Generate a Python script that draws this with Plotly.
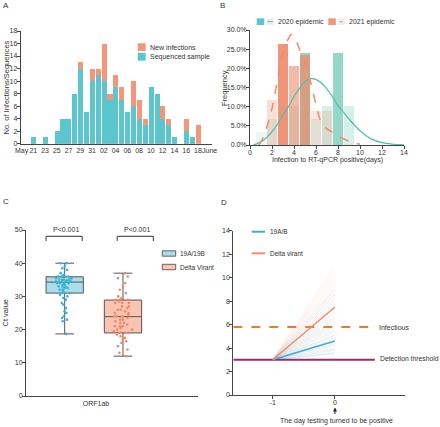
import plotly.graph_objects as go

W, H = 440, 427
def px(x): return x / W
def py(y): return 1 - y / H

FONT = "Arial, 'Liberation Sans', sans-serif"
TXT = "#333333"
AX = "#444444"
TEAL = "#5CC6CF"
ORANGE = "#F4967A"
T20 = "91,192,170"
S21 = "238,138,106"
BLUE = "#3AAFD7"
SAL = "#F28B6B"

# ---------------- Panel A data ----------------
a_dates = ["2021-05-21", "2021-05-23", "2021-05-25", "2021-05-26", "2021-05-27", "2021-05-28",
           "2021-05-29", "2021-05-30", "2021-05-31", "2021-06-01", "2021-06-02", "2021-06-03",
           "2021-06-04", "2021-06-05", "2021-06-06", "2021-06-07", "2021-06-08", "2021-06-09",
           "2021-06-10", "2021-06-11", "2021-06-12", "2021-06-13", "2021-06-14", "2021-06-16",
           "2021-06-17", "2021-06-18"]
new_infections = [1, 1, 2, 4, 4, 8, 13, 5, 12, 12, 16, 8, 11, 9, 5, 10, 7, 4, 9, 8, 6, 4, 1, 4, 1, 3]
sequenced = [1, 1, 2, 4, 4, 8, 12, 5, 10, 11, 10, 7, 9, 7, 5, 6, 4, 3, 9, 8, 4, 3, 1, 2, 1, 0]
a_tickvals = ["2021-05-19", "2021-05-21", "2021-05-23", "2021-05-25", "2021-05-27", "2021-05-29",
              "2021-05-31", "2021-06-02", "2021-06-04", "2021-06-06", "2021-06-08", "2021-06-10",
              "2021-06-12", "2021-06-14", "2021-06-16", "2021-06-18", "2021-06-20"]
a_ticktext = ["May", "21", "23", "25", "27", "29", "31", "02", "04", "06", "08", "10",
              "12", "14", "16", "18", "June"]

# ---------------- Panel B data ----------------
days_2020 = [1, 2, 3, 4, 5, 6, 7, 8, 9]
freq_2020 = [3.5, 6.9, 10.3, 10.3, 24.1, 6.9, 10.3, 24.1, 10.3]
days_2021 = [2, 3, 4, 5, 6, 7]
freq_2021 = [11.8, 26.4, 20.5, 23.6, 8.8, 8.8]
fit2020_x = [0.3, 0.6, 1.2, 1.8, 2.4, 3.0, 3.5, 4.0, 4.5, 5.0, 5.6, 6.2, 6.8, 7.4, 8.0, 8.5, 9.0, 10.0, 11.0, 12.0, 13.0, 14.0]
fit2020_y = [0.0, 0.3, 1.2, 2.8, 5.0, 7.8, 10.0, 12.7, 14.8, 16.5, 17.3, 16.8, 15.3, 13.0, 10.3, 8.6, 6.8, 3.7, 1.6, 0.6, 0.2, 0.05]
fit2021_x = [0.8, 1.0, 1.5, 2.0, 2.5, 3.0, 3.5, 3.75, 4.0, 4.5, 5.0, 5.5, 6.0, 6.5, 7.0, 7.5, 8.0, 9.0, 10.0]
fit2021_y = [0.0, 0.8, 4.5, 9.5, 17.0, 23.5, 27.8, 28.8, 28.3, 25.0, 21.5, 16.5, 10.5, 5.8, 4.2, 3.3, 2.4, 1.0, 0.2]
b_ticks_y = [0, 5, 10, 15, 20, 25, 30]
b_ticktext_y = ["0.0%", "5.0%", "10.0%", "15.0%", "20.0%", "25.0%", "30.0%"]

# ---------------- Panel C data ----------------
c_groups = ["19A/19B", "Delta Virant"]
c_q1 = [31.0, 19.0]
c_median = [34.3, 23.9]
c_q3 = [35.9, 28.9]
c_low = [18.7, 12.0]
c_high = [40.0, 37.0]
ct_19 = [40, 40, 39, 38.5, 38, 37, 36.5, 36, 36, 36, 36, 35.8, 35.5, 35.5, 35.5, 35, 35, 35, 35,
         34.8, 34.5, 34.5, 34.3, 34, 34, 34, 34, 33.5, 33.5, 33, 33, 33, 32.5, 32.5, 32, 32, 31.5,
         31, 31, 30.5, 30, 29.5, 29, 28, 27.5, 26.5, 25.5, 25, 24, 23.5, 23, 22.5, 18.7]
ct_delta = [37, 36, 35.5, 34, 33, 32, 31, 30, 29.5, 29, 29, 29, 28.5, 28, 28, 28, 27, 27, 26.5,
            26, 26, 25.5, 25, 25, 24.5, 24, 24, 24, 23.5, 23, 23, 22.5, 22, 22, 21.5, 21, 21, 21,
            20.5, 20, 20, 19.5, 19, 19, 19, 18.5, 18, 17.5, 17, 16.5, 16, 15, 14, 13, 12]

# ---------------- Panel D data ----------------
d_x = [-1, 0]
d_start = 3.0
mean_19 = 4.6
mean_delta = 7.5
ends_19 = [9.0, 8.6, 8.2, 7.8, 7.4, 7.0, 6.6, 6.3, 6.0, 5.7, 5.4, 5.1, 4.9, 4.6, 4.4, 4.2, 4.0, 3.8, 3.6, 3.5]
ends_delta = [11.0, 10.6, 10.2, 9.8, 9.5, 9.2, 8.9, 8.6, 8.3, 8.0, 7.7, 7.4, 7.1, 6.8, 6.5, 6.2, 5.9, 5.5, 5.1, 4.7, 4.3, 3.9, 3.6]
infectious_level = 5.8
detection_level = 3.0

fig = go.Figure()

# ---- A ----
DAY = 86400000
fig.add_trace(go.Bar(x=a_dates, y=new_infections, width=0.86 * DAY, marker=dict(color=ORANGE, line_width=0),
                     xaxis="x", yaxis="y", showlegend=False))
fig.add_trace(go.Bar(x=a_dates, y=sequenced, width=0.86 * DAY, marker=dict(color=TEAL, line_width=0),
                     xaxis="x", yaxis="y", showlegend=False))

# ---- B ----
m20 = max(freq_2020)
m21 = max(freq_2021)
op20 = [0.1 + 0.55 * (v / m20) ** 1.5 for v in freq_2020]
op21 = [0.12 + 0.78 * (v / m21) ** 2 for v in freq_2021]
fig.add_trace(go.Bar(x=days_2020, y=freq_2020, width=0.9,
                     marker=dict(color=f"rgb({T20})", opacity=op20, line_width=0),
                     xaxis="x2", yaxis="y2", showlegend=False))
fig.add_trace(go.Bar(x=days_2021, y=freq_2021, width=0.9,
                     marker=dict(color=f"rgb({S21})", opacity=op21, line_width=0),
                     xaxis="x2", yaxis="y2", showlegend=False))
fig.add_trace(go.Scatter(x=fit2020_x, y=fit2020_y, mode="lines", line=dict(color="#4DBFA8", width=1.2, shape="spline"),
                         xaxis="x2", yaxis="y2", showlegend=False))
fig.add_trace(go.Scatter(x=fit2021_x, y=fit2021_y, mode="lines",
                         line=dict(color="#F08C6E", width=1.5, dash="dash", shape="spline"),
                         xaxis="x2", yaxis="y2", showlegend=False))

# ---- C ----
box_fill = ["#A9DDEB", "#F9C4B1"]
pt_col = ["#35B2D6", "#F2896A"]
for i in range(2):
    fig.add_trace(go.Box(x=[i], q1=[c_q1[i]], median=[c_median[i]], q3=[c_q3[i]],
                         lowerfence=[c_low[i]], upperfence=[c_high[i]], width=0.64, whiskerwidth=0.5,
                         fillcolor=box_fill[i], line=dict(color="#555555", width=1),
                         xaxis="x3", yaxis="y3", showlegend=False, name=c_groups[i]))
for i, vals in enumerate([ct_19, ct_delta]):
    fig.add_trace(go.Box(x=[i] * len(vals), y=vals, boxpoints="all", jitter=0.55, pointpos=0, width=0.64,
                         fillcolor="rgba(0,0,0,0)", line=dict(color="rgba(0,0,0,0)", width=0),
                         marker=dict(color=pt_col[i], size=2.6, line=dict(width=0)),
                         xaxis="x3", yaxis="y3", showlegend=False, name=c_groups[i]))

# ---- D ----
fx, fy = [], []
for e in ends_delta:
    fx += [d_x[0], d_x[1], None]; fy += [d_start, e, None]
fig.add_trace(go.Scatter(x=fx, y=fy, mode="lines", line=dict(color="rgba(242,139,107,0.22)", width=0.6),
                         xaxis="x4", yaxis="y4", showlegend=False))
fx, fy = [], []
for e in ends_19:
    fx += [d_x[0], d_x[1], None]; fy += [d_start, e, None]
fig.add_trace(go.Scatter(x=fx, y=fy, mode="lines", line=dict(color="rgba(58,175,215,0.2)", width=0.6),
                         xaxis="x4", yaxis="y4", showlegend=False))
fig.add_trace(go.Scatter(x=[-1.632, 0.615], y=[infectious_level] * 2, mode="lines",
                         line=dict(color="#EE7A32", width=2, dash="dash"),
                         xaxis="x4", yaxis="y4", showlegend=False))
fig.add_trace(go.Scatter(x=[-1.632, 0.64], y=[detection_level] * 2, mode="lines",
                         line=dict(color="#A3286B", width=2),
                         xaxis="x4", yaxis="y4", showlegend=False))
fig.add_trace(go.Scatter(x=d_x, y=[d_start, mean_19], mode="lines", line=dict(color=BLUE, width=1.5),
                         xaxis="x4", yaxis="y4", showlegend=False))
fig.add_trace(go.Scatter(x=d_x, y=[d_start, mean_delta], mode="lines", line=dict(color=SAL, width=1.5),
                         xaxis="x4", yaxis="y4", showlegend=False))


def ax(**kw):
    d = dict(showline=True, linecolor=AX, linewidth=1, ticks="outside", ticklen=3, tickwidth=1,
             tickcolor=AX, showgrid=False, zeroline=False, fixedrange=True, automargin=False,
             tickangle=0, ticklabelstandoff=-2, tickfont=dict(size=7, color=TXT, family=FONT))
    d.update(kw)
    return d


fig.update_layout(
    width=W, height=H, margin=dict(l=0, r=0, t=0, b=0, autoexpand=False),
    paper_bgcolor="white", plot_bgcolor="white",
    barmode="overlay", boxmode="overlay", bargap=0,
    font=dict(family=FONT, color=TXT, size=7),
    xaxis=ax(domain=[px(20.7), px(212)], type="date",
             range=["2021-05-18 20:38", "2021-06-20 09:36"],
             tickmode="array", tickvals=a_tickvals, ticktext=a_ticktext, ticks="", ticklabelstandoff=0,
             anchor="y"),
    yaxis=ax(domain=[py(143.7), py(31)], range=[0, 18], tickvals=list(range(0, 19, 2)), anchor="x"),
    xaxis2=ax(domain=[px(250), px(404)], range=[0, 14], tickvals=list(range(0, 15, 2)), anchor="y2"),
    yaxis2=ax(domain=[py(145), py(30)], range=[0, 30], tickvals=b_ticks_y, ticktext=b_ticktext_y, anchor="x2"),
    xaxis3=ax(domain=[px(26), px(198)], range=[-0.664, 2.287], tickvals=[0.537], ticktext=["ORF1ab"],
              ticks="", ticklabelstandoff=1, anchor="y3"),
    yaxis3=ax(domain=[py(396), py(230)], range=[0, 50], tickvals=[0, 10, 20, 30, 40, 50], anchor="x3"),
    xaxis4=ax(domain=[px(233.3), px(405)], range=[-1.632, 1.124], tickvals=[-1, 0], ticktext=["-1", "0"],
              anchor="y4"),
    yaxis4=ax(domain=[py(395), py(230.7)], range=[0, 14], tickvals=list(range(0, 15, 2)), anchor="x4"),
)


def text(x, y, s, size=7, anchor="left", angle=0, xref="paper", yref="paper", color=TXT):
    fig.add_annotation(x=x, y=y, xref=xref, yref=yref, text=s, showarrow=False, xanchor=anchor,
                       yanchor="middle", textangle=angle, borderpad=0,
                       font=dict(size=size, color=color, family=FONT))


def rect(x0, y0, x1, y1, fill, line=None, lw=0):
    fig.add_shape(type="rect", xref="paper", yref="paper", x0=px(x0), x1=px(x1), y0=py(y0), y1=py(y1),
                  fillcolor=fill, line=dict(color=line or fill, width=lw), layer="above")


def seg(x0, y0, x1, y1, color, width=1, dash="solid"):
    fig.add_shape(type="line", xref="paper", yref="paper", x0=px(x0), x1=px(x1), y0=py(y0), y1=py(y1),
                  line=dict(color=color, width=width, dash=dash))


# panel letters
text(px(2), py(5), "A", size=8)
text(px(219), py(5), "B", size=8)
text(px(2), py(201.5), "C", size=8)
text(px(220), py(202.5), "D", size=8)

# A titles and legend
text(px(5.5), py(88), "No. of Infections/Sequences", size=7.5, anchor="center", angle=-90)
rect(137.7, 43.3, 145.7, 51, ORANGE)
rect(137.7, 52.7, 145.7, 60.7, TEAL)
text(px(149), py(47.5), "New infections", size=7)
text(px(149), py(56.8), "Sequenced sample", size=7)

# B titles and legend
text(px(224), py(88), "Frequency", size=7.5, anchor="center", angle=-90)
text(px(327), py(160), "Infection to RT-qPCR positive(days)", size=7, anchor="center")
rect(256.7, 18.3, 264.3, 25, TEAL)
rect(266.5, 18.3, 273.8, 25, "#EEEEEE")
seg(267.5, 21.7, 272.8, 21.7, "#4DBFA8", 1)
text(px(276.7), py(21.7), "2020 epidemic", size=7)
rect(328.3, 18.3, 335.8, 25, ORANGE)
rect(337.5, 18.3, 344.8, 25, "#EEEEEE")
seg(339.5, 21.7, 342.5, 21.7, "#F08C6E", 1)
text(px(347.7), py(21.7), "2021 epidemic", size=7)

# C titles, brackets, legend
text(px(4.5), py(313), "Ct value", size=7.5, anchor="center", angle=-90)
for (xa, xb, xt) in [(-0.32, 0.30, 66), (0.90, 1.52, 137)]:
    fig.add_shape(type="path", xref="x3", yref="y3",
                  path=f"M {xa},46.7 L {xa},48.1 L {xb},48.1 L {xb},46.7",
                  line=dict(color="#333333", width=1))
    text(px(xt), py(229.5), "P<0.001", size=7, anchor="center")
rect(162.3, 250.8, 175.7, 256.2, box_fill[0], "#444444", 0.8)
rect(162.3, 264.3, 175.7, 269.7, box_fill[1], "#444444", 0.8)
text(px(178.5), py(253.5), "19A/19B", size=6.5)
text(px(178.5), py(267), "Delta Virant", size=6.5)

# D legend and labels
seg(251.7, 231.7, 265, 231.7, BLUE, 2)
text(px(268.5), py(231.7), "19A/B", size=6.5)
seg(251.7, 253.3, 265, 253.3, SAL, 2)
text(px(268.5), py(253.3), "Delta virant", size=6.5)
text(px(378), py(327.5), "Infectious", size=7)
text(px(379), py(358.5), "Detection threshold", size=6.8)
fig.add_annotation(x=0, y=py(407.5), xref="x4", yref="paper", ax=0, ay=8, text="", showarrow=True,
                   arrowhead=2, arrowsize=0.8, arrowwidth=1, arrowcolor="#222222")
text(px(336.7), py(420.5), "The day testing turned to be positive", size=7, anchor="center")

fig.write_html("out.html", config={"displayModeBar": False},
               post_script="document.body.style.margin='0';document.body.style.padding='0';")
